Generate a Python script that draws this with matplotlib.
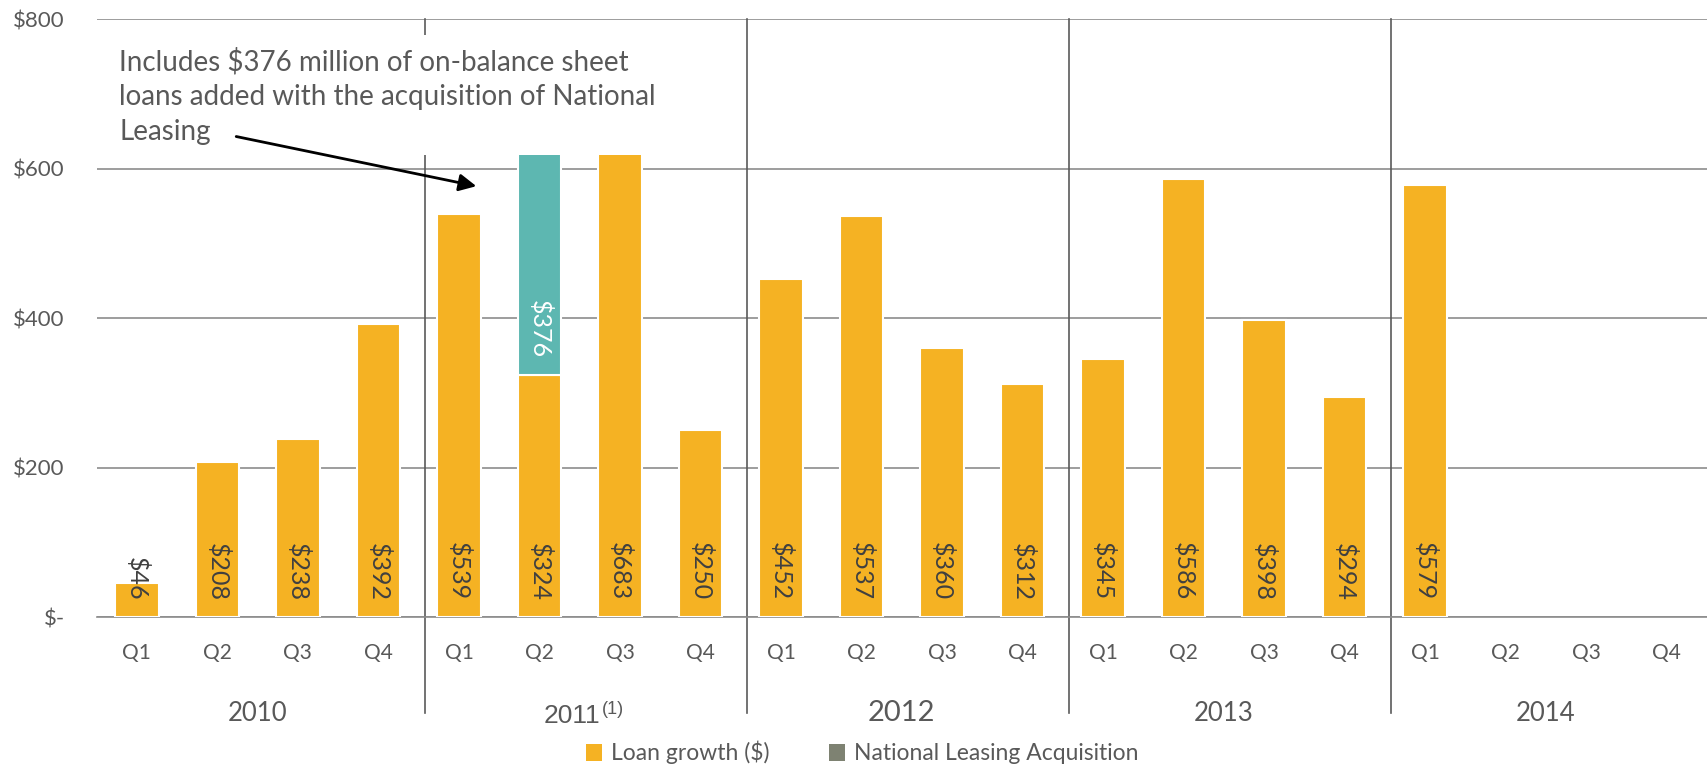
import numpy as np
import matplotlib
matplotlib.use("Agg")
import matplotlib.pyplot as plt
from matplotlib.patches import Rectangle, Patch
from matplotlib.lines import Line2D

# Quarterly loan growth ($ millions), 2010 Q1 .. 2014 Q4
quarters = ["Q1", "Q2", "Q3", "Q4"] * 5
years = ["2010", "2011", "2012", "2013", "2014"]
loan_growth = [46, 208, 238, 392, 539, 324, 683, 250, 452, 537, 360, 312,
               345, 586, 398, 294, 579, np.nan, np.nan, np.nan]
acquisition = [0, 0, 0, 0, 0, 376, 0, 0, 0, 0, 0, 0,
               0, 0, 0, 0, 0, 0, 0, 0]
y_ticks = [0, 200, 400, 600, 800]
y_tick_labels = ["$-", "$200", "$400", "$600", "$800"]

ORANGE = "#F5B223"
TEAL = "#5DB7B1"
LEGEND_GRAY = "#7E8272"
TEXT = "#595959"

plt.rcParams["font.family"] = ["Lato", "DejaVu Sans"]

fig = plt.figure(figsize=(17.07, 7.68), dpi=100)
ax = fig.add_axes([0.0566, 0.1966, 0.9434, 0.7781])

x = np.arange(len(loan_growth))
lg = np.array(loan_growth, dtype=float)
acq = np.array(acquisition, dtype=float)

ax.bar(x, lg, width=0.54, color=ORANGE, edgecolor="white", linewidth=1.5, zorder=3)
ax.bar(x[acq > 0], acq[acq > 0], bottom=lg[acq > 0], width=0.54, color=TEAL,
       edgecolor="white", linewidth=1.5, zorder=3)

# value labels, rotated, anchored near bar base
for i, v in enumerate(lg):
    if np.isnan(v):
        continue
    ax.text(i, 22, f"${int(v)}", rotation=270, ha="center", va="bottom",
            fontsize=18, color="#404040", zorder=5)
    if acq[i] > 0:
        ax.text(i, v + 22, f"${int(acq[i])}", rotation=270, ha="center",
                va="bottom", fontsize=18, color="white", zorder=5)

ax.set_xlim(-0.5, len(x) - 0.5)
ax.set_ylim(0, 800)
ax.set_yticks(y_ticks)
ax.set_yticklabels(y_tick_labels)
ax.tick_params(axis="y", length=0, pad=23, labelsize=16, labelcolor=TEXT)
ax.set_xticks([])
ax.yaxis.grid(True, color="#8C8C8C", linewidth=1.2, zorder=0)
ax.set_axisbelow(True)
for s in ["top", "right", "left"]:
    ax.spines[s].set_visible(False)
ax.spines["bottom"].set_color("#8C8C8C")
ax.spines["bottom"].set_linewidth(1.2)

xt = ax.get_xaxis_transform()
# quarter labels
for i, q in enumerate(quarters):
    ax.text(i, -0.060, q, transform=xt, ha="center", va="center",
            fontsize=15, color=TEXT)

# year separators
for k in range(1, 5):
    sx = 4 * k - 0.42
    ax.add_line(Line2D([sx, sx], [1.0, -0.161], transform=xt, color="#5A5A5A",
                       linewidth=1.2, clip_on=False, zorder=2))

# year labels
for k, yr in enumerate(years):
    cx = 4 * k + 1.5
    if yr == "2011":
        ax.text(5.4, -0.165, yr, transform=xt, ha="center", va="center",
                fontsize=19, color=TEXT, family=["Liberation Sans"])
        ax.text(5.78, -0.155, "(1)", transform=xt, ha="left", va="center",
                fontsize=13, color=TEXT, family=["Liberation Sans"])
    else:
        fs = 21 if yr == "2012" else 18.5
        ax.text(cx, -0.161, yr, transform=xt, ha="center", va="center",
                fontsize=fs, color=TEXT)

# white annotation panel that masks the tall bars
ax.add_patch(Rectangle((-0.3, 619), 7.3, 160, facecolor="white",
                       edgecolor="none", zorder=4))
ax.text(-0.22, 697, "Includes $376 million of on-balance sheet\n"
        "loans added with the acquisition of National\nLeasing",
        ha="left", va="center", fontsize=20, color=TEXT, linespacing=1.4,
        zorder=6)
ax.annotate("", xy=(4.25, 576), xytext=(1.2, 644),
            arrowprops=dict(arrowstyle="-|>", color="black", lw=2,
                            mutation_scale=26),
            zorder=6)

handles = [Patch(facecolor=ORANGE, edgecolor="none"),
           Patch(facecolor=LEGEND_GRAY, edgecolor="none")]
fig.legend(handles, ["Loan growth ($)", "National Leasing Acquisition"],
           loc="center", bbox_to_anchor=(0.505, 0.02), ncol=2, frameon=False,
           fontsize=16.5, handlelength=0.7, handleheight=0.8, handletextpad=0.4,
           columnspacing=2.6, labelcolor=TEXT)

fig.savefig("out.png", dpi=100)
